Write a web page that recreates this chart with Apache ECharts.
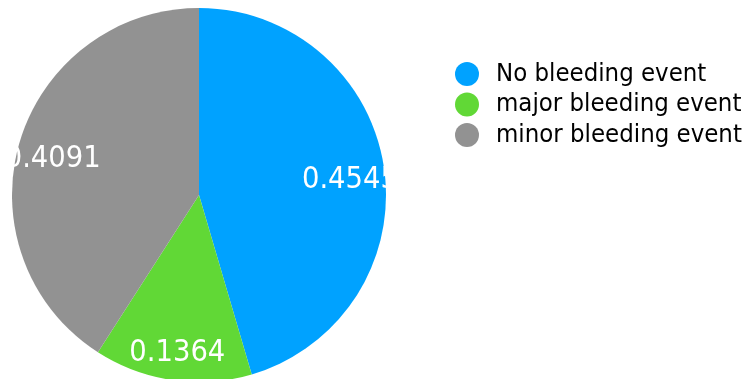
<!DOCTYPE html>
<html><head><meta charset="utf-8">
<script src="https://cdn.jsdelivr.net/npm/echarts@6/dist/echarts.min.js"></script>
<style>html,body{margin:0;padding:0;background:#fff}#c{width:745px;height:379px}</style>
</head><body><div id="c"></div>
<script>
const categories = ['No bleeding event', 'major bleeding event', 'minor bleeding event'];
const values = [0.4545, 0.1364, 0.4091];
const colors = ['#00A2FF', '#61D836', '#929292'];

const chart = echarts.init(document.getElementById('c'), null, {renderer: 'canvas'});
const FONT = '"DejaVu Sans Condensed", "DejaVu Sans", sans-serif';
const data = categories.map((n, i) => ({name: n, value: values[i], itemStyle: {color: colors[i]}}));
chart.setOption({
  animation: false,
  legend: {
    orient: 'vertical', left: 450, top: 56, icon: 'circle',
    itemWidth: 24, itemHeight: 24, itemGap: 4.5,
    textStyle: {fontFamily: FONT, fontSize: 25.5, color: '#000', padding: [0,0,0,12]},
    data: categories
  },
  series: [
    {
      type: 'pie', center: [199, 195], radius: [0, 187], startAngle: 90, clockwise: true,
      label: {show: false}, labelLine: {show: false}, silent: true,
      itemStyle: {borderWidth: 0}, data: data
    },
    {
      type: 'pie', center: [199, 195], radius: [112, 187], startAngle: 90, clockwise: true,
      silent: true, legendHoverLink: false,
      itemStyle: {color: 'rgba(0,0,0,0)', borderWidth: 0},
      label: {show: true, position: 'inside',
        formatter: p => '{v|' + values[p.dataIndex].toFixed(4) + '}',
        rich: {v: {color: '#fff', fontFamily: FONT, fontSize: 30.5, padding: [14, 0, 0, 0]}}},
      labelLine: {show: false},
      data: categories.map((n, i) => ({name: n + ' ', value: values[i]}))
    }
  ]
});
</script></body></html>
